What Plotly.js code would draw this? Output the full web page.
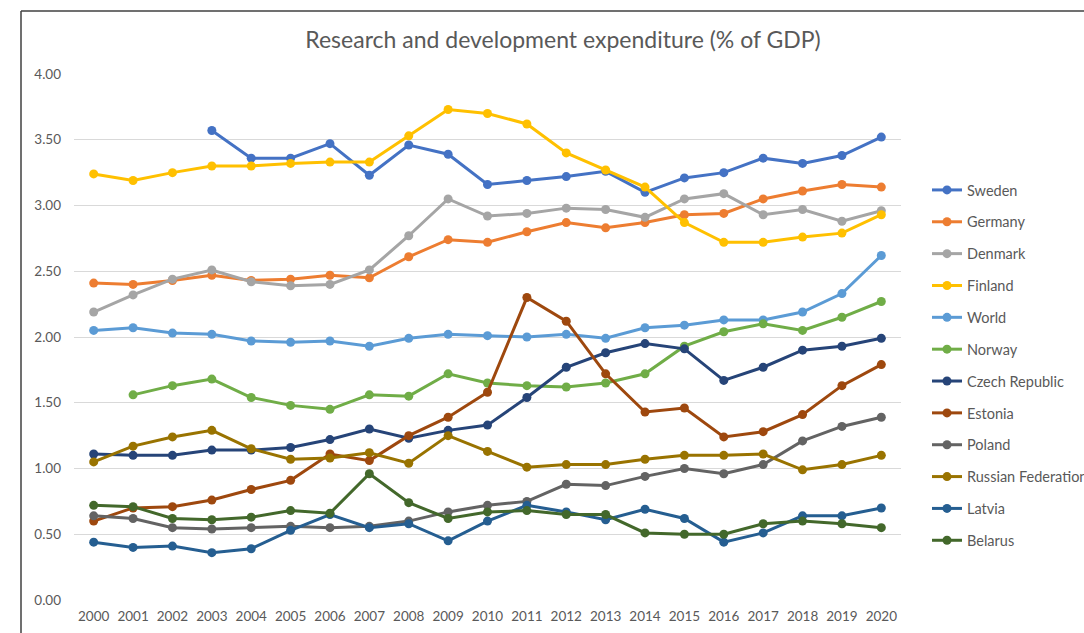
<!DOCTYPE html>
<html>
<head>
<meta charset="utf-8">
<script src="https://cdn.plot.ly/plotly-3.0.1.min.js"></script>
<style>
  html, body { margin: 0; padding: 0; background: #fff; }
  #chart { width: 1084px; height: 633px; }
</style>
</head>
<body>
<div id="chart"></div>
<script>
const years = ['2000','2001','2002','2003','2004','2005','2006','2007','2008','2009','2010',
               '2011','2012','2013','2014','2015','2016','2017','2018','2019','2020'];

const sweden  = [null, null, null, 3.57, 3.36, 3.36, 3.47, 3.23, 3.46, 3.39, 3.16, 3.19, 3.22, 3.26, 3.10, 3.21, 3.25, 3.36, 3.32, 3.38, 3.52];
const germany = [2.41, 2.40, 2.43, 2.47, 2.43, 2.44, 2.47, 2.45, 2.61, 2.74, 2.72, 2.80, 2.87, 2.83, 2.87, 2.93, 2.94, 3.05, 3.11, 3.16, 3.14];
const denmark = [2.19, 2.32, 2.44, 2.51, 2.42, 2.39, 2.40, 2.51, 2.77, 3.05, 2.92, 2.94, 2.98, 2.97, 2.91, 3.05, 3.09, 2.93, 2.97, 2.88, 2.96];
const finland = [3.24, 3.19, 3.25, 3.30, 3.30, 3.32, 3.33, 3.33, 3.53, 3.73, 3.70, 3.62, 3.40, 3.27, 3.14, 2.87, 2.72, 2.72, 2.76, 2.79, 2.93];
const world   = [2.05, 2.07, 2.03, 2.02, 1.97, 1.96, 1.97, 1.93, 1.99, 2.02, 2.01, 2.00, 2.02, 1.99, 2.07, 2.09, 2.13, 2.13, 2.19, 2.33, 2.62];
const norway  = [null, 1.56, 1.63, 1.68, 1.54, 1.48, 1.45, 1.56, 1.55, 1.72, 1.65, 1.63, 1.62, 1.65, 1.72, 1.93, 2.04, 2.10, 2.05, 2.15, 2.27];
const czech   = [1.11, 1.10, 1.10, 1.14, 1.14, 1.16, 1.22, 1.30, 1.23, 1.29, 1.33, 1.54, 1.77, 1.88, 1.95, 1.91, 1.67, 1.77, 1.90, 1.93, 1.99];
const estonia = [0.60, 0.70, 0.71, 0.76, 0.84, 0.91, 1.11, 1.06, 1.25, 1.39, 1.58, 2.30, 2.12, 1.72, 1.43, 1.46, 1.24, 1.28, 1.41, 1.63, 1.79];
const poland  = [0.64, 0.62, 0.55, 0.54, 0.55, 0.56, 0.55, 0.56, 0.60, 0.67, 0.72, 0.75, 0.88, 0.87, 0.94, 1.00, 0.96, 1.03, 1.21, 1.32, 1.39];
const russia  = [1.05, 1.17, 1.24, 1.29, 1.15, 1.07, 1.08, 1.12, 1.04, 1.25, 1.13, 1.01, 1.03, 1.03, 1.07, 1.10, 1.10, 1.11, 0.99, 1.03, 1.10];
const latvia  = [0.44, 0.40, 0.41, 0.36, 0.39, 0.53, 0.65, 0.55, 0.58, 0.45, 0.60, 0.72, 0.67, 0.61, 0.69, 0.62, 0.44, 0.51, 0.64, 0.64, 0.70];
const belarus = [0.72, 0.71, 0.62, 0.61, 0.63, 0.68, 0.66, 0.96, 0.74, 0.62, 0.67, 0.68, 0.65, 0.65, 0.51, 0.50, 0.50, 0.58, 0.60, 0.58, 0.55];

const seriesNames  = ['Sweden','Germany','Denmark','Finland','World','Norway','Czech Republic','Estonia','Poland','Russian Federation','Latvia','Belarus'];
const seriesValues = [sweden, germany, denmark, finland, world, norway, czech, estonia, poland, russia, latvia, belarus];
const seriesColors = ['#4472C4','#ED7D31','#A5A5A5','#FFC000','#5B9BD5','#70AD47','#264478','#9E480E','#636363','#997300','#255E91','#43682B'];
const yTicks = [0, 0.5, 1, 1.5, 2, 2.5, 3, 3.5, 4];

const FONT = 'Lato, "Open Sans", sans-serif';
const GREY = '#595959';

const traces = seriesNames.map((name, i) => ({
  type: 'scatter',
  mode: 'lines+markers',
  name: name,
  legendgroup: 'g' + i,
  x: years,
  y: seriesValues[i],
  line: { color: seriesColors[i], width: 3 },
  marker: { color: seriesColors[i], size: 9 },
  connectgaps: false,
  hoverinfo: 'x+y+name'
}));

// plot area: x 74..901, y 74..600
const L = 74, R = 901, T = 74, B = 600, W = 1084, H = 633;
const px = v => (v - L) / (R - L);
const py = v => (B - v) / (B - T);

const layout = {
  width: W, height: H,
  margin: { l: L, r: W - R, t: T, b: H - B, pad: 0, autoexpand: false },
  paper_bgcolor: '#ffffff',
  plot_bgcolor: '#ffffff',
  font: { family: FONT, color: GREY, size: 13 },
  title: {
    text: 'Research and development expenditure (% of GDP)',
    font: { family: FONT, size: 23, color: GREY },
    xref: 'container', yref: 'container',
    x: 563 / W, xanchor: 'center',
    y: 1 - 40 / H, yanchor: 'middle'
  },
  xaxis: {
    type: 'category',
    categoryorder: 'array',
    categoryarray: years,
    range: [-0.5, years.length - 0.5],
    showgrid: false,
    zeroline: false,
    showline: false,
    ticks: '',
    ticklabelstandoff: 6,
    tickfont: { family: FONT, size: 13.5, color: GREY },
    fixedrange: true
  },
  yaxis: {
    range: [0, 4],
    tickvals: yTicks,
    ticktext: yTicks.map(v => v.toFixed(2)),
    showgrid: true,
    gridcolor: '#D9D9D9',
    gridwidth: 1,
    zeroline: false,
    showline: false,
    ticks: '',
    ticklabelstandoff: 12,
    tickfont: { family: FONT, size: 13.5, color: GREY },
    fixedrange: true
  },
  showlegend: true,
  legend: {
    x: px(927), xanchor: 'left',
    y: py(174), yanchor: 'top',
    traceorder: 'grouped',
    tracegroupgap: 10,
    font: { family: FONT, size: 14.5, color: GREY },
    bgcolor: 'rgba(0,0,0,0)',
    itemwidth: 30
  },
  shapes: [
    { type: 'line', xref: 'paper', yref: 'paper', x0: px(21), x1: px(21), y0: py(11), y1: py(640),
      line: { color: '#404040', width: 1.5 } },
    { type: 'line', xref: 'paper', yref: 'paper', x0: px(21), x1: px(1100), y0: py(11), y1: py(11),
      line: { color: '#404040', width: 1.5 } }
  ]
};

Plotly.newPlot('chart', traces, layout, { displayModeBar: false, staticPlot: false, responsive: false });
</script>
</body>
</html>
